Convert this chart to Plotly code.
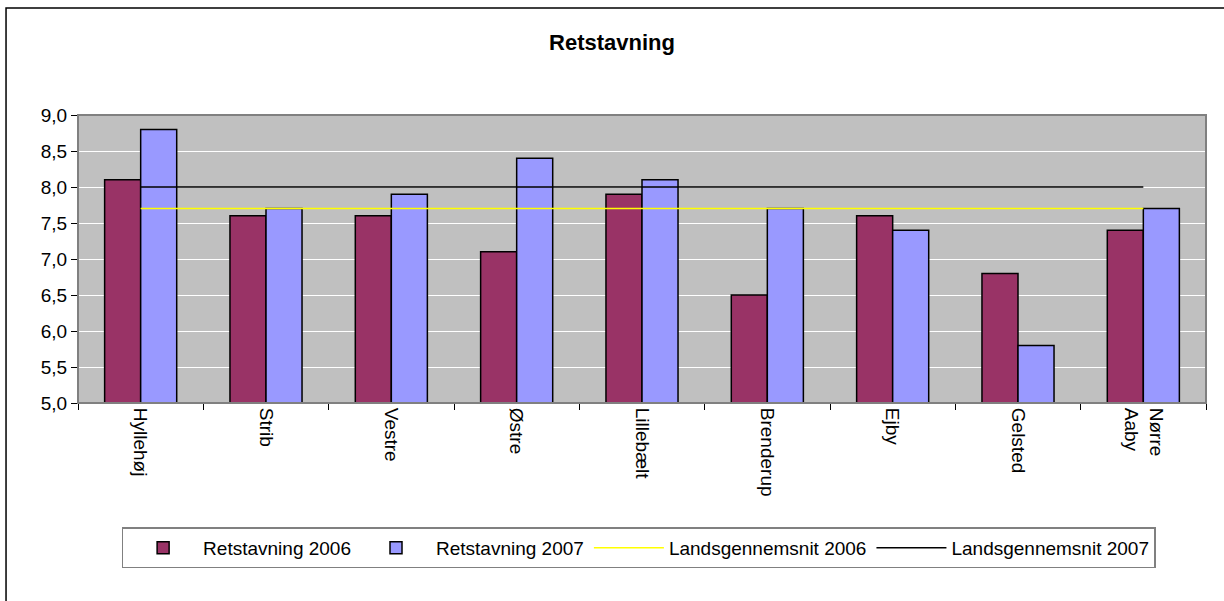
import plotly.graph_objects as go

skoler = ["Hyllehøj", "Strib", "Vestre", "Østre", "Lillebælt", "Brenderup", "Ejby", "Gelsted", "Nørre<br>Aaby"]
ret_2006 = [8.1, 7.6, 7.6, 7.1, 7.9, 6.5, 7.6, 6.8, 7.4]
ret_2007 = [8.8, 7.7, 7.9, 8.4, 8.1, 7.7, 7.4, 5.8, 7.7]
lands_2006 = [7.7] * len(skoler)
lands_2007 = [8.0] * len(skoler)
y_ticks = [5.0, 5.5, 6.0, 6.5, 7.0, 7.5, 8.0, 8.5, 9.0]
y_labels = ["5,0", "5,5", "6,0", "6,5", "7,0", "7,5", "8,0", "8,5", "9,0"]

FONT = "Liberation Sans, Arial, sans-serif"

fig = go.Figure()
fig.add_trace(go.Bar(
    x=skoler, y=ret_2006, name="Retstavning 2006",
    marker={"color": "#993366", "line": {"color": "black", "width": 1.5}},
))
fig.add_trace(go.Bar(
    x=skoler, y=ret_2007, name="Retstavning 2007",
    marker={"color": "#9999FF", "line": {"color": "black", "width": 1.5}},
))
fig.add_trace(go.Scatter(
    x=skoler, y=lands_2006, mode="lines", name="Landsgennemsnit 2006",
    line={"color": "#FFFF00", "width": 1.5},
))
fig.add_trace(go.Scatter(
    x=skoler, y=lands_2007, mode="lines", name="Landsgennemsnit 2007",
    line={"color": "black", "width": 1.5},
))

fig.update_layout(
    width=1224,
    height=601,
    barmode="group",
    bargap=0.425,
    bargroupgap=0,
    plot_bgcolor="#C0C0C0",
    paper_bgcolor="white",
    font={"family": FONT, "size": 19, "color": "black"},
    margin={"l": 78, "r": 18, "t": 115, "b": 198},
    title={"text": "<b>Retstavning</b>", "x": 0.5, "xanchor": "center",
           "y": 0.93, "yanchor": "middle", "font": {"size": 22}},
    legend={"orientation": "h", "x": 0.497, "xanchor": "center", "y": -0.503, "yanchor": "middle",
            "bordercolor": "#808080", "borderwidth": 1.5, "font": {"size": 19},
            "itemwidth": 70, "tracegroupgap": 0},
    showlegend=True,
    shapes=[
        # outer chart frame (only top and left edges fall inside the window)
        {"type": "rect", "xref": "paper", "yref": "paper", "x0": -0.0638, "x1": 1.2,
         "y0": -1.0, "y1": 1.3715, "line": {"color": "black", "width": 1.5}},
        {"type": "rect", "xref": "paper", "yref": "paper", "x0": 0, "x1": 1,
         "y0": 0, "y1": 1, "line": {"color": "#808080", "width": 2}},
    ],
)
fig.update_xaxes(
    type="category", tickangle=90, tickson="boundaries", ticks="outside",
    ticklen=6, tickcolor="black", showline=True, linecolor="black", linewidth=1,
    showgrid=False, tickfont={"size": 19},
)
fig.update_yaxes(
    range=[5, 9], tickvals=y_ticks, ticktext=y_labels, ticks="outside", ticklen=6,
    tickcolor="black", showline=True, linecolor="black", linewidth=1,
    showgrid=True, gridcolor="white", gridwidth=1, zeroline=False, tickfont={"size": 19},
)

fig.write_html(
    "out.html",
    config={"displayModeBar": False},
    post_script="document.body.style.margin='0';",
)
